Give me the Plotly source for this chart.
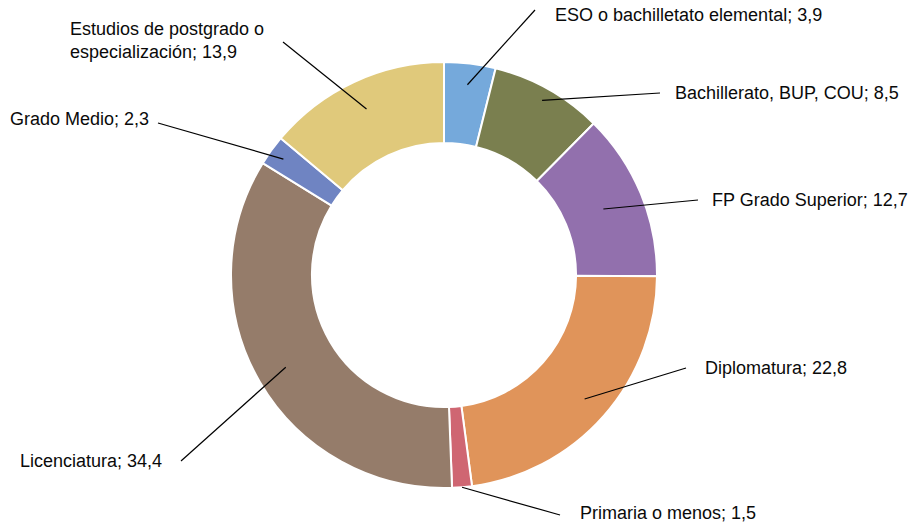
import math
import plotly.graph_objects as go

W, H = 912, 527

categories = [
    "ESO o bachilletato elemental",
    "Bachillerato, BUP, COU",
    "FP Grado Superior",
    "Diplomatura",
    "Primaria o menos",
    "Licenciatura",
    "Grado Medio",
    "Estudios de postgrado o<br>especialización",
]
values = [3.9, 8.5, 12.7, 22.8, 1.5, 34.4, 2.3, 13.9]

COLORS = ["#75A9DB", "#7A7F4F", "#9270AD", "#E0945A", "#CF6672",
          "#957C6A", "#6F84C2", "#E0C97B"]

# donut geometry in pixels
CX, CY, R = 444, 275, 213
HOLE = 0.62

# leader line layout: anchor radius fraction, line end (px), text anchor (px), side
LEADERS = [
    (0.90, (535, 10), (553, 15), "left"),
    (0.94, (660, 93), (673, 93), "left"),
    (0.81, (698, 200), (710, 200), "left"),
    (0.88, (686, 368), (703, 368), "left"),
    (1.00, (560, 515), (578, 513), "left"),
    (0.86, (181, 461), (164, 461), "right"),
    (0.93, (158, 123), (151, 119), "right"),
    (0.86, (283, 42), (266, 41), "right"),
]

FONT = "Liberation Sans, Arial, sans-serif"


def px(x, y):
    return x / W, 1 - y / H


fig = go.Figure(
    go.Pie(
        labels=categories,
        values=values,
        hole=HOLE,
        sort=False,
        direction="clockwise",
        rotation=0,
        marker=dict(colors=COLORS, line=dict(color="white", width=2)),
        textinfo="none",
        hoverinfo="label+value",
        domain=dict(x=[(CX - R) / W, (CX + R) / W],
                    y=[1 - (CY + R) / H, 1 - (CY - R) / H]),
        showlegend=False,
    )
)

total = sum(values)
cum = 0
for v, name, (rf, lend, tpos, side) in zip(values, categories, LEADERS):
    theta = 2 * math.pi * (cum + v / 2) / total
    cum += v
    ax = CX + rf * R * math.sin(theta)
    ay = CY - rf * R * math.cos(theta)
    x0, y0 = px(ax, ay)
    x1, y1 = px(*lend)
    fig.add_shape(type="line", xref="paper", yref="paper",
                  x0=x0, y0=y0, x1=x1, y1=y1,
                  line=dict(color="black", width=1.2))
    tx, ty = px(*tpos)
    fig.add_annotation(
        x=tx, y=ty, xref="paper", yref="paper",
        text=f"{name}; {str(v).replace('.', ',')}",
        showarrow=False, xanchor=side, yanchor="middle", align="left",
        font=dict(family=FONT, size=18, color="#0a0a0a"),
    )

fig.update_layout(
    width=W, height=H,
    margin=dict(l=0, r=0, t=0, b=0),
    paper_bgcolor="white",
    plot_bgcolor="white",
)

# drop the default body margin so the figure sits at the window's corner
fig.write_html("out.html", config={"displayModeBar": False},
               post_script="document.body.style.margin='0';")
